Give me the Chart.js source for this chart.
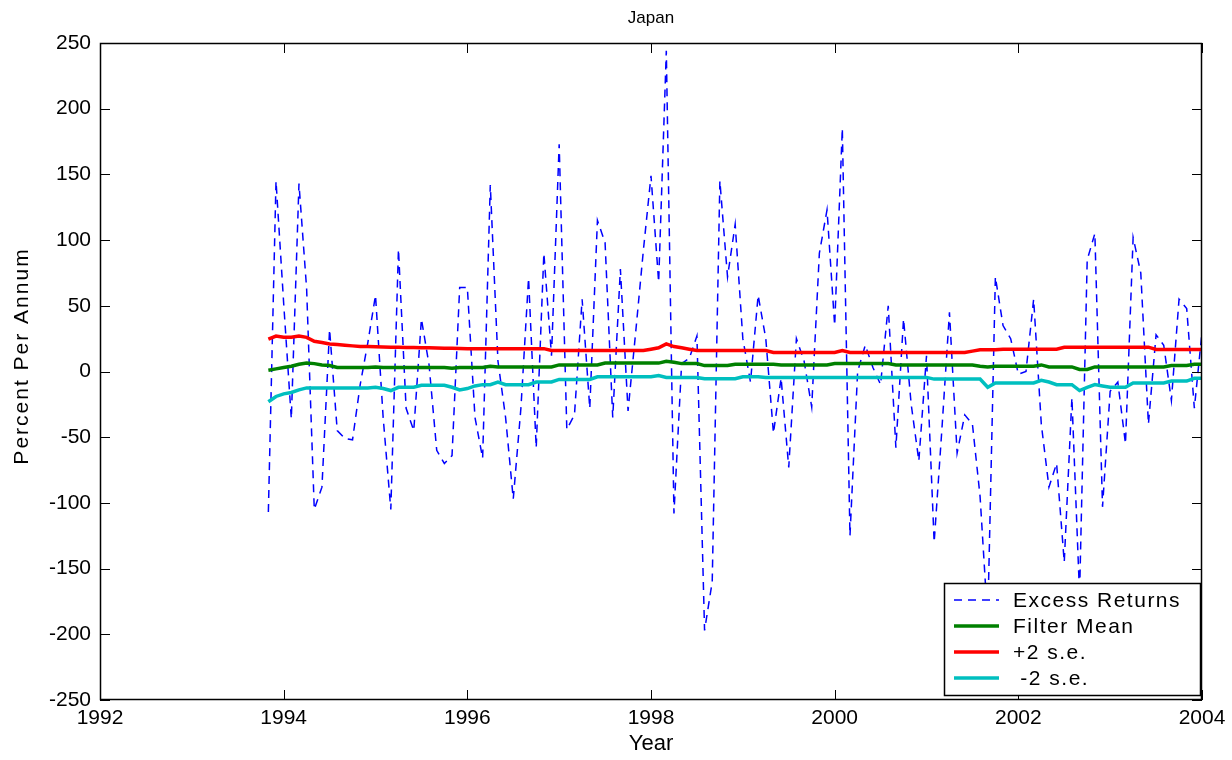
<!DOCTYPE html>
<html>
<head>
<meta charset="utf-8">
<title>Japan</title>
<script src="https://cdn.jsdelivr.net/npm/chart.js@4.4.1/dist/chart.umd.min.js"></script>
<style>
    html, body { margin: 0; padding: 0; background: #fff; }
    #wrap { width: 1232px; height: 760px; }
</style>
</head>
<body>
<div id="wrap"><canvas id="japanChart" width="1232" height="760"></canvas></div>
<script>
// monthly observations, first one is Nov 1993
const startYear = 1993 + 10 / 12;

const excessReturns = [
    -107, 145, 52, -36, 143, 63, -105, -88, 32, -45,
    -51, -52, -10, 22, 58, -35, -105, 93, -28, -45,
    40, 5, -60, -70, -64, 64, 64, -35, -66, 142,
    8, -35, -97, -28, 71, -58, 90, 12, 173, -44,
    -33, 55, -28, 115, 98, -35, 78, -30, 30, 92,
    149, 68, 244, -108, 6, 10, 27, -197, -160, 145,
    72, 112, 25, -8, 58, 25, -47, -5, -73, 25,
    8, -27, 90, 123, 35, 185, -125, 0, 20, 3,
    -10, 50, -58, 40, -25, -68, 12, -130, -45, 45,
    -62, -33, -40, -95, -190, 72, 35, 25, -2, 0,
    55, -40, -88, -70, -145, -20, -170, 85, 105, -103,
    -15, -8, -55, 102, 75, -40, 28, 20, -22, 55,
    48, -28, 30
];

const filterMean = [
    1, 2, 3, 4, 5.5, 6.5, 6, 5, 4.5, 3,
    3, 3, 3, 3, 3.5, 3, 3, 3, 3, 3,
    3, 3, 3, 3, 2.5, 3, 3, 3, 3, 4,
    3.5, 3.5, 3.5, 3.5, 3.5, 3.5, 3.5, 3.5, 5, 5,
    5, 5, 5, 5, 6.4, 6.4, 6.4, 6.4, 6.4, 6.4,
    6.4, 6.4, 7.8, 7, 6, 6, 6, 4.5, 4.5, 4.5,
    4.5, 5.5, 5.5, 5.5, 5.5, 5.5, 5.5, 5, 5, 5,
    5, 5, 5, 5, 6, 6, 6, 6, 6, 6,
    6, 6, 5, 5, 5, 5, 5, 5, 5, 5,
    5, 5, 5, 4, 3.5, 4, 4, 4, 4, 4,
    4, 5, 3.5, 3.5, 3.5, 3.5, 1.5, 1.5, 3.5, 3.5,
    3.5, 3.5, 3.5, 3.5, 3.5, 3.5, 3.5, 3.5, 4.5, 4.5,
    4.5, 5.5, 5.5
];

const plusTwoSE = [
    24.7, 27, 26, 26, 27, 26, 23, 22, 21, 20.5,
    20, 19.5, 19, 19, 18.8, 18.6, 18.5, 18.4, 18.3, 18.2,
    18, 18, 17.8, 17.7, 17.6, 17.5, 17.4, 17.4, 17.4, 17.4,
    17.4, 17.4, 17.4, 17.4, 17.4, 17.4, 17.4, 16, 16, 16,
    16, 16, 16, 16, 16, 16, 16, 16, 16, 16,
    17, 18, 21, 19, 18, 17, 16, 16, 16, 16,
    16, 16, 16, 16, 16, 16, 14.5, 14.5, 14.5, 14.5,
    14.5, 14.5, 14.5, 14.5, 14.5, 16, 14.5, 14.5, 14.5, 14.5,
    14.5, 14.5, 14.5, 14.5, 14.5, 14.5, 14.5, 14.5, 14.5, 14.5,
    14.5, 14.5, 15.5, 16.5, 16.5, 16.5, 17, 17, 17, 17,
    17, 17, 17, 17, 18.5, 18.5, 18.5, 18.5, 18.5, 18.5,
    18.5, 18.5, 18.5, 18.5, 18.5, 18.5, 16.8, 16.8, 16.8, 16.8,
    16.8, 16.8, 16.8
];

const minusTwoSE = [
    -23, -19, -17, -16, -14, -12.5, -12.5, -12.5, -12.5, -12.5,
    -12.5, -12.5, -12.5, -12.5, -12, -13, -14.5, -12, -12, -12,
    -10.5, -10.5, -10.5, -10.5, -12, -14, -13, -11, -10, -10,
    -8, -10, -10, -10, -10, -8, -8, -8, -6, -6,
    -6, -6, -6, -4, -4, -4, -4, -4, -4, -4,
    -4, -3, -4.5, -4.5, -4.5, -4.5, -4.5, -5.5, -5.5, -5.5,
    -5.5, -5.5, -4, -4, -4, -4.5, -4.5, -4.5, -4.5, -4.5,
    -4.5, -4.5, -4.5, -4.5, -4.5, -4.5, -4.5, -4.5, -4.5, -4.5,
    -4.5, -4.5, -4.5, -4.5, -4.5, -4.5, -4.5, -5.8, -5.8, -5.8,
    -5.8, -5.8, -5.8, -5.8, -12, -8.7, -8.7, -8.7, -8.7, -8.7,
    -8.7, -6.7, -8, -10, -10, -10, -14.5, -12, -10, -11,
    -12, -12, -12, -8.7, -8.7, -8.7, -8.7, -8.7, -7.3, -7.3,
    -7.3, -5.2, -5.2
];

const xTickValues = [1992, 1994, 1996, 1998, 2000, 2002, 2004];
const yTickValues = [-250, -200, -150, -100, -50, 0, 50, 100, 150, 200, 250];
const yAxisTitle = 'Percent Per Annum';

const toPoints = arr => arr.map((v, i) => ({ x: startYear + i / 12, y: v }));

const FONT = '"Liberation Sans", Arial, Helvetica, sans-serif';

// MATLAB style box, inward ticks, spaced y label and an opaque legend inside the axes
const matlabAxes = {
    id: 'matlabAxes',
    afterDatasetsDraw(chart) {
        const { ctx, chartArea: a, scales: { x, y } } = chart;
        const tick = 10;
        ctx.save();
        ctx.strokeStyle = '#000';
        ctx.lineWidth = 1;
        ctx.beginPath();
        x.ticks.forEach(t => {
            const px = Math.round(x.getPixelForValue(t.value)) + 0.5;
            ctx.moveTo(px, a.bottom); ctx.lineTo(px, a.bottom - tick);
            ctx.moveTo(px, a.top); ctx.lineTo(px, a.top + tick);
        });
        y.ticks.forEach(t => {
            const py = Math.round(y.getPixelForValue(t.value)) + 0.5;
            ctx.moveTo(a.left, py); ctx.lineTo(a.left + tick, py);
            ctx.moveTo(a.right, py); ctx.lineTo(a.right - tick, py);
        });
        ctx.stroke();
        ctx.lineWidth = 1.5;
        ctx.strokeRect(a.left + 0.5, a.top + 0.5, a.right - a.left - 1, a.bottom - a.top - 1);

        // y axis title
        ctx.save();
        ctx.translate(22, 356);
        ctx.rotate(-Math.PI / 2);
        ctx.font = '21px ' + FONT;
        ctx.letterSpacing = '2px';
        ctx.fillStyle = '#000';
        ctx.textAlign = 'center';
        ctx.textBaseline = 'middle';
        ctx.fillText(yAxisTitle, 0, 0);
        ctx.restore();

        // legend
        const w = 256, h = 112;
        const lx = a.right - 2 - w, ly = a.bottom - 5 - h;
        ctx.fillStyle = '#fff';
        ctx.fillRect(lx, ly, w, h);
        ctx.lineWidth = 1.5;
        ctx.strokeRect(lx + 0.5, ly + 0.5, w, h);
        ctx.font = '21px ' + FONT;
        ctx.letterSpacing = '1.5px';
        ctx.textBaseline = 'middle';
        chart.data.datasets.forEach((ds, k) => {
            const ry = ly + 17 + k * 26;
            ctx.beginPath();
            ctx.strokeStyle = ds.borderColor;
            ctx.lineWidth = ds.borderWidth;
            ctx.setLineDash(ds.borderDash || []);
            ctx.moveTo(lx + 10, ry);
            ctx.lineTo(lx + 55, ry);
            ctx.stroke();
            ctx.setLineDash([]);
            ctx.fillStyle = '#000';
            ctx.fillText(ds.label, lx + 69, ry + 1);
        });
        ctx.restore();
    }
};

const ctx = document.getElementById('japanChart').getContext('2d');
const japanChart = new Chart(ctx, {
    type: 'line',
    data: {
        datasets: [
            {
                label: 'Excess Returns',
                data: toPoints(excessReturns),
                borderColor: '#0000ff',
                borderWidth: 1.5,
                borderDash: [8, 6],
                order: 4
            },
            {
                label: 'Filter Mean',
                data: toPoints(filterMean),
                borderColor: '#008000',
                borderWidth: 3.5,
                order: 3
            },
            {
                label: '+2 s.e.',
                data: toPoints(plusTwoSE),
                borderColor: '#ff0000',
                borderWidth: 3.5,
                order: 2
            },
            {
                label: ' -2 s.e.',
                data: toPoints(minusTwoSE),
                borderColor: '#00bfbf',
                borderWidth: 3.5,
                order: 1
            }
        ]
    },
    options: {
        responsive: false,
        animation: false,
        devicePixelRatio: 1,
        elements: {
            point: { radius: 0, hoverRadius: 0 },
            line: { tension: 0, fill: false }
        },
        layout: { padding: { left: 10, right: 30, top: 0, bottom: 3 } },
        scales: {
            x: {
                type: 'linear',
                min: 1992,
                max: 2004,
                afterBuildTicks: s => { s.ticks = xTickValues.map(v => ({ value: v })); },
                afterFit: s => { s.height = 57; },
                grid: { display: false, drawTicks: false },
                border: { display: false },
                ticks: {
                    padding: 6,
                    color: '#000',
                    maxRotation: 0,
                    font: { family: FONT, size: 21 },
                    callback: v => String(v)
                },
                title: {
                    display: true,
                    text: 'Year',
                    color: '#000',
                    padding: { top: 0, bottom: 0 },
                    font: { family: FONT, size: 22 }
                }
            },
            y: {
                min: -250,
                max: 250,
                afterBuildTicks: s => { s.ticks = yTickValues.map(v => ({ value: v })); },
                afterFit: s => { s.width = 90; },
                grid: { display: false, drawTicks: false },
                border: { display: false },
                ticks: {
                    padding: 9,
                    color: '#000',
                    font: { family: FONT, size: 21 }
                },
                title: { display: false }
            }
        },
        plugins: {
            legend: { display: false },
            tooltip: { enabled: false },
            title: {
                display: true,
                text: 'Japan',
                color: '#000',
                fullSize: false,
                padding: { top: 8, bottom: 14.6 },
                font: { family: FONT, size: 17, weight: 'normal' }
            }
        }
    },
    plugins: [matlabAxes]
});
</script>
</body>
</html>
